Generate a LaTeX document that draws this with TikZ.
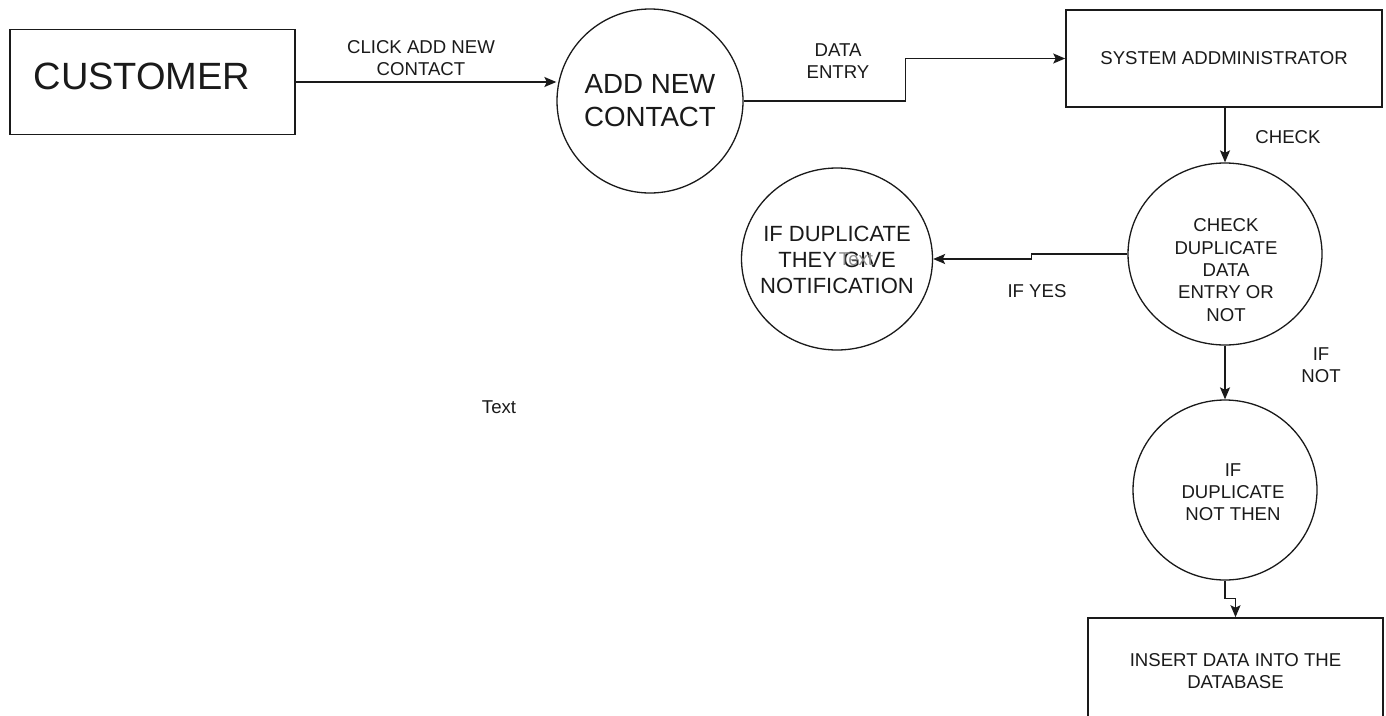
\documentclass[tikz,border=0pt]{standalone}
\usepackage{fontspec}
\setmainfont{Liberation Sans}
\usetikzlibrary{shapes.geometric,arrows.meta}
\definecolor{ink}{HTML}{1A1A1A}
\tikzset{
  sm/.style={font=\fontsize{18.6}{22.3}\selectfont, text=ink, align=center, inner sep=0pt},
  boxshape/.style={draw=ink, line width=1.6pt, rectangle, inner sep=0pt},
  procshape/.style={draw=ink, line width=1.3pt, ellipse, inner sep=0pt},
  arr/.style={draw=ink, line width=1.6pt, -{Stealth[length=12pt,width=10pt,inset=2.5pt]}},
}
\begin{document}
\begin{tikzpicture}[x=1pt,y=-1pt]
\useasboundingbox[fill=white] (0,0) rectangle (1386,715);

% boxes
\node[boxshape, minimum width=285pt, minimum height=105pt] (cust) at (152.5,82) {};
\node[font=\fontsize{38}{45}\selectfont, text=ink, inner sep=0pt] (custlbl) at (142,76) {CUSTOMER};
\node[boxshape, sm, minimum width=316pt, minimum height=97pt] (sys) at (1224,58.5) {SYSTEM ADDMINISTRATOR};
\node[boxshape, sm, minimum width=295pt, minimum height=106pt] (ins) at (1235.5,671) {INSERT DATA INTO THE\\DATABASE};

% processes
\node[procshape, minimum width=186pt, minimum height=184pt] (add) at (650,101) {};
\node[font=\fontsize{27.7}{33.2}\selectfont, text=ink, align=center, inner sep=0pt] (addlbl) at (650,101) {ADD NEW\\CONTACT};
\node[procshape, minimum width=194pt, minimum height=182pt] (chk) at (1225,254) {};
\node[sm] (chklbl) at (1226,270) {CHECK\\DUPLICATE\\DATA\\ENTRY OR\\NOT};
\node[procshape, minimum width=191pt, minimum height=182pt] (notif) at (837,259) {};
\node[font=\fontsize{22}{26.4}\selectfont, text=ink, align=center, inner sep=0pt] (notiflbl) at (837,260) {IF DUPLICATE\\THEY GIVE\\NOTIFICATION};
\node[sm, text=black!45] (notiftext) at (856,259) {Text};
\node[procshape, minimum width=184pt, minimum height=180pt] (dup) at (1225,490) {};
\node[sm] (duplbl) at (1233,492) {IF\\DUPLICATE\\NOT THEN};

% free text
\node[sm] (freetext) at (499,407) {Text};

% connectors
\draw[arr] (cust.east) -- (cust.east -| add.west);
\node[sm] (lclick) at (421,58) {CLICK ADD NEW\\CONTACT};

\draw[arr] (add.east) -- ++(162,0) |- (sys.west);
\node[sm] (lentry) at (838,61) {DATA\\ENTRY};

\draw[arr] (sys.south -| chk.north) -- (chk.north);
\node[sm] (lcheck) at (1288,137) {CHECK};

\draw[arr] (chk.west) -- ++(-96,0) |- (notif.east);
\node[sm] (lyes) at (1037,291) {IF YES};

\draw[arr] (chk.south) -- (dup.north);
\node[sm] (lnot) at (1321,365) {IF\\NOT};

\draw[arr] (dup.south) -- ++(0,18) -| (ins.north);
\end{tikzpicture}
\end{document}
